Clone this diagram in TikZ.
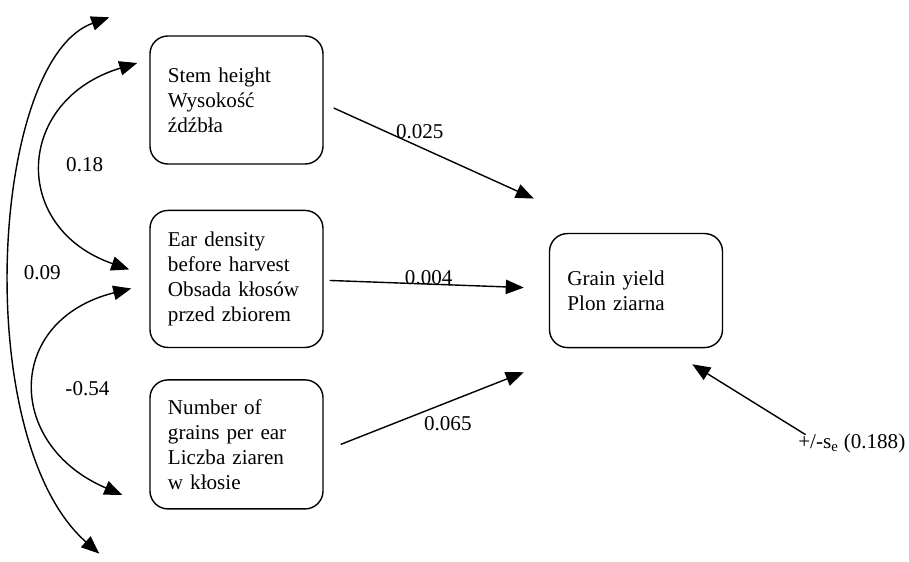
\documentclass[tikz,border=0pt]{standalone}
\usepackage{fontspec}
\setmainfont{Liberation Serif}
\usetikzlibrary{arrows.meta,positioning}

\begin{document}
\begin{tikzpicture}[x=0.025cm,y=-0.025cm,>={Triangle[length=0.45cm,width=0.36cm]},line width=1pt,
      var node/.style={rectangle,draw,rounded corners=0.45cm,align=left,text width=3.425cm,
        inner xsep=0.45cm,inner ysep=0pt,font=\fontsize{15}{17.7}\selectfont},
      coef/.style={font=\fontsize{15}{17.7}\selectfont,inner sep=0pt}]
      \useasboundingbox (0,0) rectangle (909,561);

      \node[var node,minimum height=3.2cm] (stem) at (236.5,100) {Stem height\\Wysokość\\źdźbła};
      \node[var node,minimum height=3.425cm] (ear) [below=1.125cm of stem] {Ear density\\before harvest\\Obsada kłosów\\przed zbiorem};
      \node[var node,minimum height=3.225cm] (grains) [below=0.775cm of ear] {Number of\\grains per ear\\Liczba ziaren\\w kłosie};
      \node[var node,minimum height=2.85cm] (yield) [right=5.625cm of ear,yshift=-0.29cm] {Grain yield\\Plon ziarna};
      \node[coef,anchor=base east] (err) at (906,448) {+/-s\textsubscript{e} (0.188)};

      \path[->]
        ([shift={(10,8)}]stem.east) edge node[coef,pos=0.43,anchor=base,yshift=0.2cm] {0.025} ([shift={(-15,-92)}]yield.west)
        ([shift={(6,1.5)}]ear.east) edge node[coef,pos=0.51,anchor=base] {0.004} ([shift={(-25,-3)}]yield.west)
        ([shift={(17,0)}]grains.east) edge node[coef,pos=0.585,anchor=base,yshift=-0.71cm] {0.065} ([shift={(-25,24)}]yield.south west)
        ([shift={(8,2)}]err.north west) edge ([shift={(-31,16)}]yield.south east);

      % correlations
      \draw[<->] ([shift={(-40,-18)}]stem.north west) .. controls (-10,60) and (-30,440) .. ([shift={(-50,44)}]grains.south west)
        node[coef,pos=0.5,xshift=0.78cm,yshift=-0.35cm] {0.09};
      \draw[<->] ([shift={(-12,-37)}]stem.west) .. controls (15,100) and (10,228) .. ([shift={(-20,-9.5)}]ear.west)
        node[coef,pos=0.5,xshift=1.05cm] {0.18};
      \draw[<->] ([shift={(-18,9.5)}]ear.west) .. controls (5,320) and (5,445) .. ([shift={(-27,50.5)}]grains.west)
        node[coef,pos=0.5,xshift=1.3cm,yshift=-0.1cm] {-0.54};
\end{tikzpicture}
\end{document}
